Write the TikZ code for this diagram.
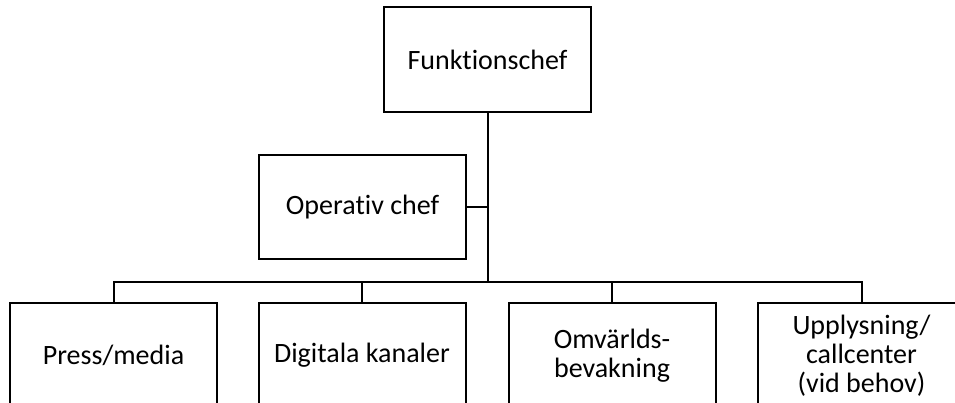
\documentclass[tikz,border=0pt]{standalone}
\usepackage{fontspec}
\setmainfont{Carlito}[Ligatures=NoCommon]

\begin{document}
\begin{tikzpicture}[x=1pt, y=-1pt,
    unit/.style={draw, line width=2pt, minimum width=207pt, minimum height=105pt, align=center, inner sep=0pt, font=\fontsize{28}{29}\selectfont},
    link/.style={line width=2pt}]
      \useasboundingbox (0,0) rectangle (955,403);
      \clip (0,0) rectangle (955,403);
      \node[unit] (chef) at (487.5,59.5) {Funktionschef};
      \node[unit, minimum height=104pt] (opchef) at (362.5,207) {Operativ chef};
      \node[unit] (press) at (113.5,355.5) {Press/media};
      \node[unit] (digital) at (362,355.5) {Digitala kanaler};
      \node[unit] (omvarld) at (612,355.5) {Omvärlds-\\bevakning};
      \node[unit] (upplys) at (861.5,355.5) {Upplysning/\\callcenter\\(vid behov)};
      \coordinate (bar) at (0,282);
      \draw[link] (chef.south) -- (chef.south |- bar);
      \draw[link] (opchef.east) -- (opchef.east -| chef.south);
      \draw[link] (press.north) -- (press.north |- bar) -- (upplys.north |- bar) -- (upplys.north);
      \draw[link] (digital.north) -- (digital.north |- bar);
      \draw[link] (omvarld.north) -- (omvarld.north |- bar);
    \end{tikzpicture}
\end{document}
